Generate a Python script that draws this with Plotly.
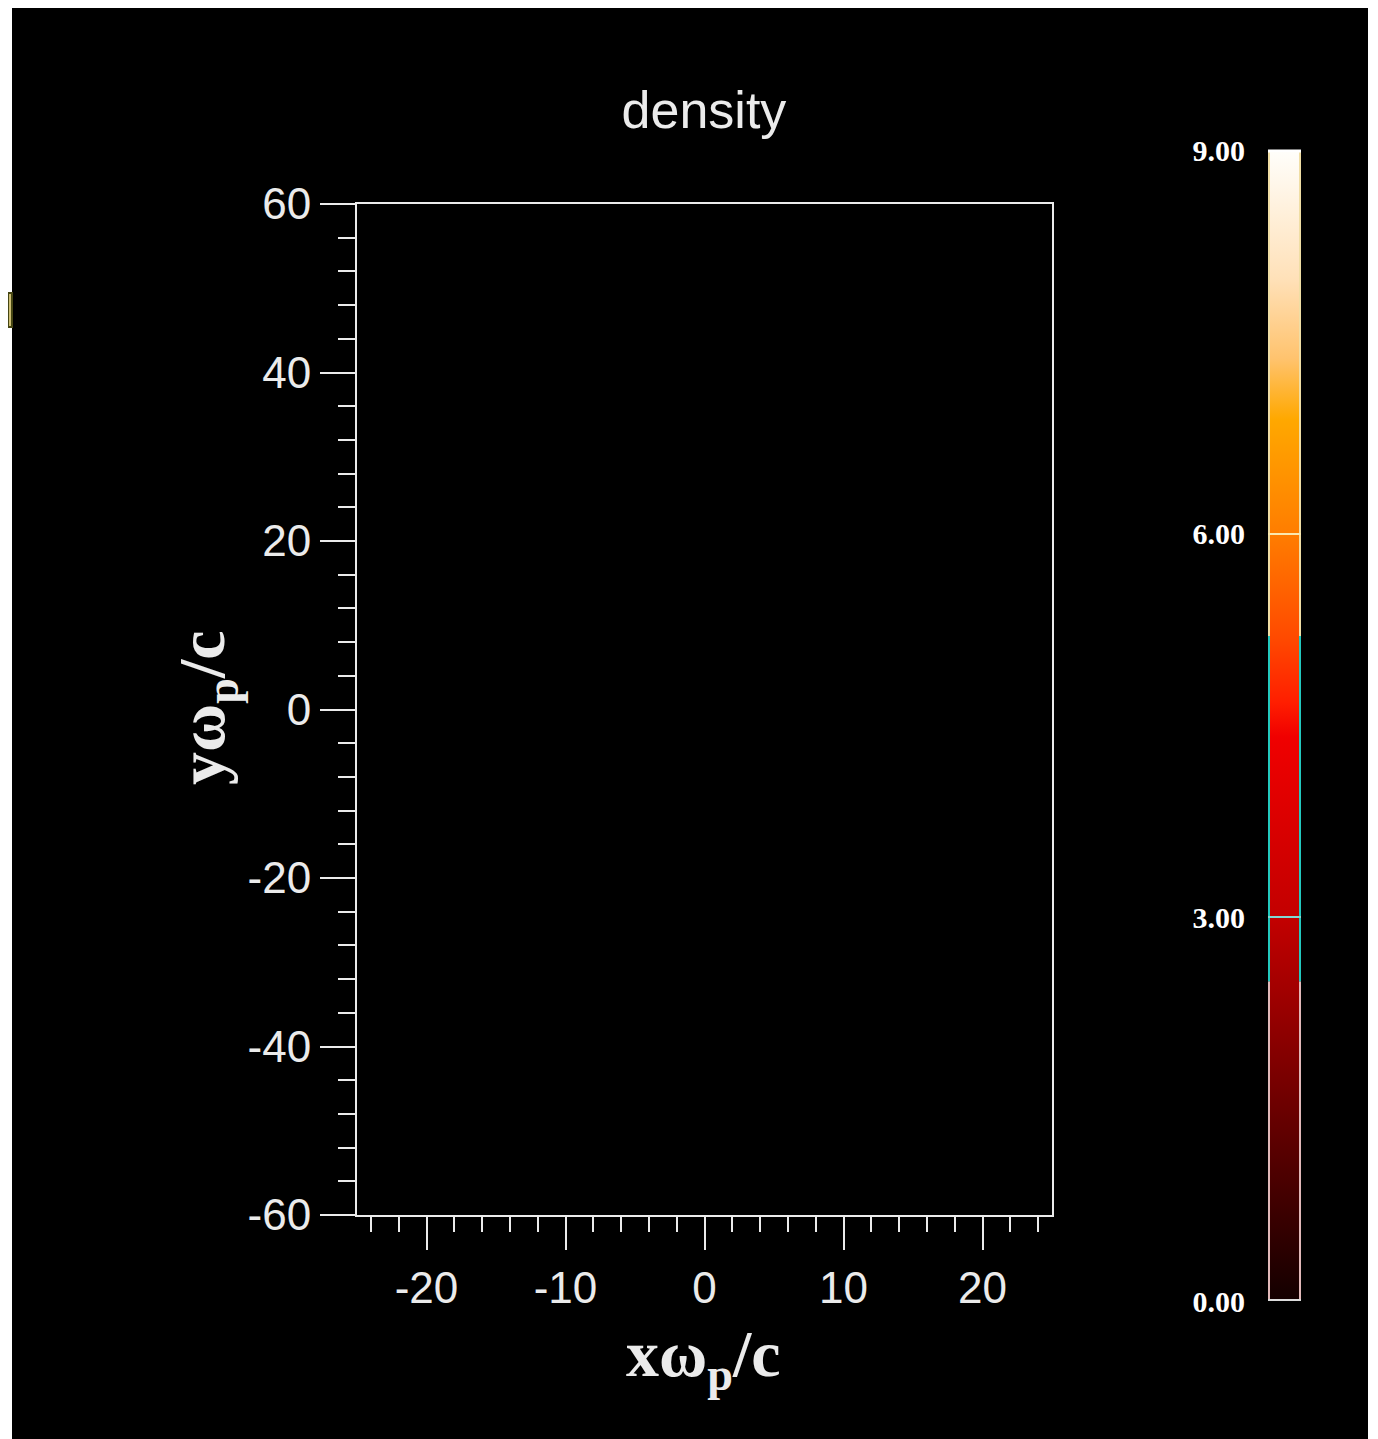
import plotly.graph_objects as go

W, H = 1378, 1439
OFF = 8                      # the page puts the figure 8 px in from the corner
FW, FH = W - OFF, H - OFF

# axes
x_range = [-25, 25]
y_range = [-60, 60]
x_ticks = [-20, -10, 0, 10, 20]
y_ticks = [-60, -40, -20, 0, 20, 40, 60]

# colour scale of the (empty) density map
density_range = [0.0, 9.0]
cbar_ticks = [0, 3, 6, 9]
cbar_labels = ["0.00", "3.00", "6.00", "9.00"]
contour_levels = [3.0, 6.0]
contour_colors = ["rgb(130,215,210)", "rgb(250,232,175)"]
edge_bands = [[0.0, 2.5], [2.5, 5.2], [5.2, 9.0]]
edge_colors = ["rgb(225,185,185)", "rgb(35,200,190)", "rgb(240,222,165)"]

colorscale = [
    [0.0, "rgb(20,0,0)"],
    [0.2, "rgb(125,0,0)"],
    [0.333, "rgb(195,0,0)"],
    [0.49, "rgb(240,0,0)"],
    [0.52, "rgb(255,30,0)"],
    [0.578, "rgb(255,75,0)"],
    [0.667, "rgb(255,125,0)"],
    [0.767, "rgb(255,168,0)"],
    [0.82, "rgb(255,195,110)"],
    [0.89, "rgb(255,225,185)"],
    [1.0, "rgb(255,254,250)"],
]

FG = "rgb(235,235,235)"


def px_x(p):
    return (p - OFF) / FW


def px_y(p):
    return (FH - (p - OFF)) / FH


fig = go.Figure()

# invisible trace that carries the colour bar
fig.add_trace(go.Scatter(
    x=[0, 0], y=[0, 0], mode="markers", hoverinfo="skip", showlegend=False,
    marker=dict(color=density_range, colorscale=colorscale, cmin=0, cmax=9,
                size=1, opacity=0, showscale=True,
                colorbar=dict(x=px_x(1270), xanchor="left", xpad=0, ypad=0,
                              y=px_y((150 + 1301) / 2), yanchor="middle",
                              thickness=29, thicknessmode="pixels",
                              len=1147, lenmode="pixels",
                              outlinewidth=0, ticks="", showticklabels=False)),
))

axis_font = dict(family="Liberation Sans, Arial", size=44, color=FG)

fig.update_layout(
    width=FW, height=FH,
    margin=dict(l=0, r=0, t=0, b=0),
    paper_bgcolor="black", plot_bgcolor="black",
    showlegend=False,
    title=dict(text="density", x=px_x(704), xanchor="center",
               y=px_y(110), yanchor="middle",
               font=dict(family="Liberation Sans, Arial", size=52, color=FG)),
    xaxis=dict(domain=[px_x(357), px_x(1052)], range=x_range,
               tickvals=x_ticks, ticktext=[str(v) for v in x_ticks],
               ticks="outside", ticklen=33, tickwidth=2,
               tickcolor=FG, showline=True, linecolor=FG, linewidth=2,
               mirror=True, showgrid=False, zeroline=False,
               tickfont=axis_font, automargin=False,
               minor=dict(dtick=2, tick0=0, ticks="outside", ticklen=15,
                          tickwidth=2, tickcolor=FG, showgrid=False)),
    yaxis=dict(domain=[px_y(1215), px_y(204)], range=y_range,
               tickvals=y_ticks, ticktext=[str(v) for v in y_ticks],
               ticks="outside", ticklen=35, tickwidth=2,
               tickcolor=FG, showline=True, linecolor=FG, linewidth=2,
               mirror=True, showgrid=False, zeroline=False,
               tickfont=axis_font, automargin=False,
               minor=dict(dtick=4, tick0=0, ticks="outside", ticklen=17,
                          tickwidth=2, tickcolor=FG, showgrid=False)),
    # overlay axes aligned with the colour bar (labels + level marks)
    xaxis2=dict(domain=[px_x(1268), px_x(1301)], range=[0, 1], anchor="y2",
                visible=False, fixedrange=True),
    yaxis2=dict(domain=[px_y(1301), px_y(150)], range=density_range,
                anchor="x2", tickvals=cbar_ticks, ticktext=cbar_labels,
                ticks="", showline=False, showgrid=False, zeroline=False,
                ticklabelstandoff=22, automargin=False, fixedrange=True,
                tickfont=dict(family="Liberation Serif, Times New Roman",
                              size=30, color="white", weight="bold")),
)

# axis titles
title_font = dict(family="Liberation Serif, Times New Roman", size=66, color=FG)
fig.add_annotation(text="<b>xω<sub>p</sub>/c</b>", xref="paper", yref="paper",
                   x=px_x(704), y=px_y(1358), xanchor="center", yanchor="middle",
                   showarrow=False, font=title_font)
fig.add_annotation(text="<b>yω<sub>p</sub>/c</b>", xref="paper", yref="paper",
                   x=px_x(206), y=px_y(708), xanchor="center", yanchor="middle",
                   textangle=-90, showarrow=False, font=title_font)

# colour bar edges (drawn beside the bar) and level marks (drawn over it)
for (lo, hi), col in zip(edge_bands, edge_colors):
    for xe in (1269, 1300):
        fig.add_shape(type="line", xref="paper", yref="y2",
                      x0=px_x(xe), x1=px_x(xe), y0=lo, y1=hi,
                      line=dict(color=col, width=2))
fig.add_shape(type="line", xref="paper", yref="paper",
              x0=px_x(1268), x1=px_x(1301), y0=px_y(1300), y1=px_y(1300),
              line=dict(color="rgb(220,220,220)", width=2))
fig.add_shape(type="line", xref="paper", yref="paper",
              x0=px_x(1268), x1=px_x(1301), y0=px_y(151), y1=px_y(151),
              line=dict(color="white", width=3))
for lev, col in zip(contour_levels, contour_colors):
    fig.add_annotation(text=" ", xref="paper", yref="y2", x=px_x(1284.5), y=lev,
                       xanchor="center", yanchor="middle", showarrow=False,
                       width=33, height=2, bgcolor=col, borderpad=0,
                       borderwidth=0, font=dict(size=2))

# white page edges and the small widget on the left
fig.add_shape(type="rect", xref="paper", yref="paper", x0=0, x1=px_x(12),
              y0=0, y1=1, fillcolor="white", line_width=0)
fig.add_shape(type="rect", xref="paper", yref="paper", x0=px_x(1368), x1=1,
              y0=0, y1=1, fillcolor="white", line_width=0)
fig.add_shape(type="rect", xref="paper", yref="paper", x0=0, x1=px_x(12),
              y0=px_y(327), y1=px_y(293), fillcolor="rgb(205,190,115)",
              line=dict(color="rgb(70,70,20)", width=2))

fig.write_html("out.html")
